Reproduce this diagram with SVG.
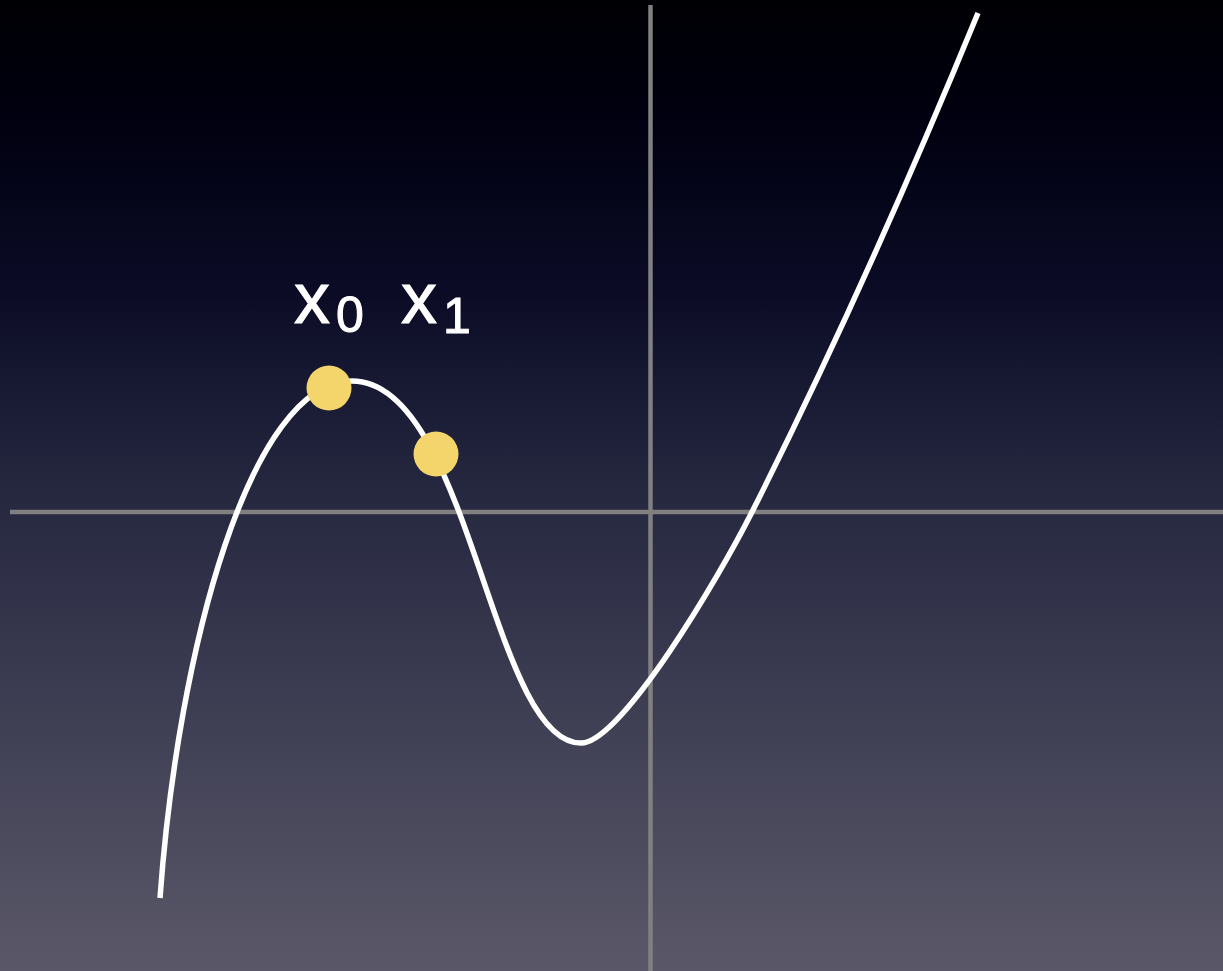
<svg xmlns="http://www.w3.org/2000/svg" width="1223" height="971" viewBox="0 0 1223 971">
  <defs>
    <linearGradient id="bg" x1="0" y1="0" x2="0" y2="1">
      <stop offset="0" stop-color="#000004"/>
      <stop offset="0.12" stop-color="#000010"/>
      <stop offset="0.3" stop-color="#0b0b26"/>
      <stop offset="0.5" stop-color="#25273f"/>
      <stop offset="0.75" stop-color="#404055"/>
      <stop offset="1" stop-color="#5a5868"/>
    </linearGradient>
    <style>
      .axis { stroke: #808080; stroke-width: 4.5; fill: none; }
      .curve { stroke: #ffffff; stroke-width: 5.5; fill: none; }
      .pt { fill: #f4d56c; }
      .lbl { fill: #ffffff; stroke: #ffffff; stroke-width: 1; font-family: "Liberation Sans", Arial, sans-serif; }
      .big { font-size: 72px; }
      .sub { font-size: 50px; }
    </style>
  </defs>
  <rect width="1223" height="971" fill="url(#bg)"/>
  <g id="connectors">
    <line id="x-axis" class="axis" x1="10" y1="512" x2="1223" y2="512"/>
    <line id="y-axis" class="axis" x1="650.5" y1="5" x2="650.5" y2="971"/>
    <path id="curve" class="curve" d="M160,898 C178,650 250,381 352,381 C470,381 491,743 581,743 C621,743 718.5,578.5 752,512 C833,351.3 909.6,179.5 978,13"/>
  </g>
  <g id="p0">
    <circle class="pt" cx="329" cy="388" r="22.5"/>
  </g>
  <g id="p1">
    <circle class="pt" cx="436" cy="454" r="22.5"/>
  </g>
  <g id="label-x0">
    <text class="lbl" y="323"><tspan class="big" x="294">x</tspan><tspan class="sub" x="336" y="332">0</tspan></text>
  </g>
  <g id="label-x1">
    <text class="lbl" y="323"><tspan class="big" x="401">x</tspan><tspan class="sub" x="443" y="333">1</tspan></text>
  </g>
</svg>
